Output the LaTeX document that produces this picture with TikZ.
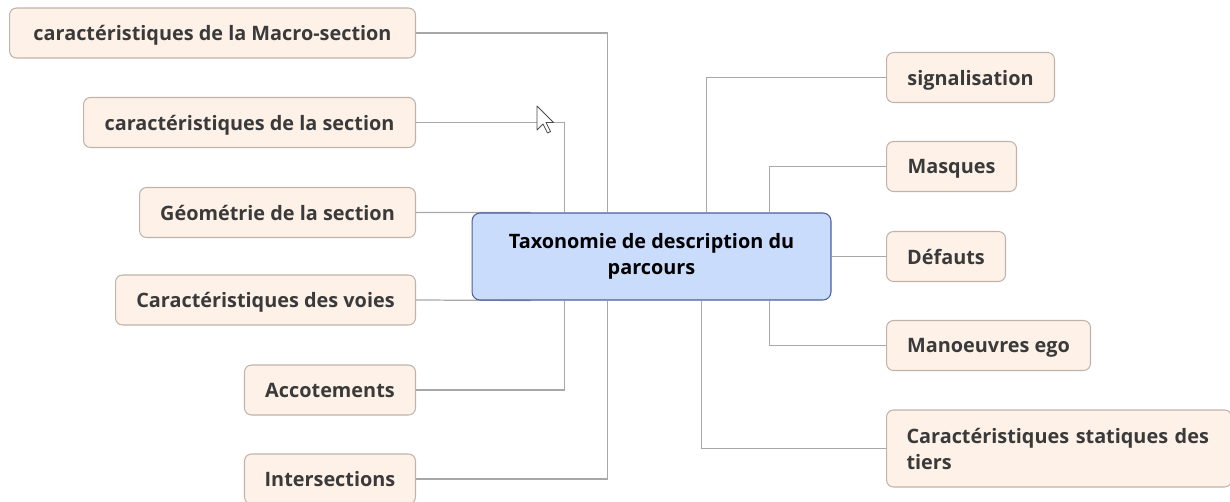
\documentclass[tikz,border=0pt]{standalone}
\usepackage{fontspec}
\setmainfont{Open Sans}
\usetikzlibrary{positioning,backgrounds}
\definecolor{leafback}{HTML}{FDF1E8}
\definecolor{leafline}{HTML}{BFB3AA}
\definecolor{leaftext}{HTML}{3A3A3A}
\definecolor{rootback}{HTML}{C9DCFC}
\definecolor{rootline}{HTML}{4B5E9E}
\definecolor{linkgray}{HTML}{A8A8A8}

\begin{document}
\begin{tikzpicture}[x=0.02cm, y=-0.02cm, font=\fontsize{11.3}{14.8}\selectfont\bfseries,
    leaf/.style={draw=leafline, fill=leafback, rounded corners=0.14cm, minimum height=1cm, text=leaftext, line width=0.6pt},
    oneline/.style={leaf, text depth=0pt},
    root/.style={draw=rootline, fill=rootback, rounded corners=0.16cm, minimum width=7.18cm, minimum height=1.74cm, align=center, line width=0.6pt},
    link/.style={draw=linkgray, line width=0.7pt}]
    \clip (0,0) rectangle (1230,501);

    \node [root] (root) at (651.5,256.5) {Taxonomie de description du\\parcours};

    \node [oneline, anchor=east, minimum width=8.12cm] (macro) at (416,33) {caractéristiques de la Macro-section};
    \node [oneline, anchor=east, minimum width=6.64cm] (sect) at (416,122.5) {caractéristiques de la section};
    \node [oneline, anchor=east, minimum width=5.52cm] (geom) at (416,212.5) {Géométrie de la section};
    \node [oneline, anchor=east, minimum width=6.0cm] (voies) at (416,300) {Caractéristiques des voies};
    \node [oneline, anchor=east, minimum width=3.42cm] (accot) at (416,390) {Accotements};
    \node [oneline, anchor=east, minimum width=3.42cm] (inter) at (416,479) {Intersections};

    \node [oneline, anchor=west, minimum width=3.36cm] (signal) at (886,77.5) {signalisation};
    \node [oneline, anchor=west, minimum width=2.6cm] (masq) at (886,166.5) {Masques};
    \node [oneline, anchor=west, minimum width=2.38cm] (defaut) at (886,256.5) {Défauts};
    \node [oneline, anchor=west, minimum width=4.08cm] (manoeu) at (886,345.5) {Manoeuvres ego};
    \node [leaf, anchor=west, minimum height=1.54cm, text width=6.1cm, inner xsep=0.4cm, align=left] (tiers) at (886,448.5) {Caractéristiques statiques des\\tiers};

    \begin{scope}[on background layer]
        \draw [link] (macro.east) -| ([xshift=2.72cm]root.north west);
        \draw [link] (sect.east) -| ([xshift=1.86cm]root.north west);
        \draw [link] (geom.east) -- ([xshift=1.18cm]root.north west);
        \draw [link] (voies.east) -- ([xshift=1.18cm]root.south west);
        \draw [link] (accot.east) -| ([xshift=1.86cm]root.south west);
        \draw [link] (inter.east) -| ([xshift=2.72cm]root.south west);

        \draw [link] (signal.west) -| ([xshift=4.7cm]root.north west);
        \draw [link] (masq.west) -| ([xshift=5.96cm]root.north west);
        \draw [link] (defaut.west) -- (root.east);
        \draw [link] (manoeu.west) -| ([xshift=5.96cm]root.south west);
        \draw [link] (tiers.west) -| ([xshift=4.6cm]root.south west);
    \end{scope}

    \draw [fill=white, draw=black!70, line width=0.5pt, line join=round] (537,106) -- ++(0,24) -- ++(6,-6) -- ++(4.5,9) -- ++(3,-1.5) -- ++(-4.5,-9) -- ++(7.5,0) -- cycle;
\end{tikzpicture}
\end{document}
